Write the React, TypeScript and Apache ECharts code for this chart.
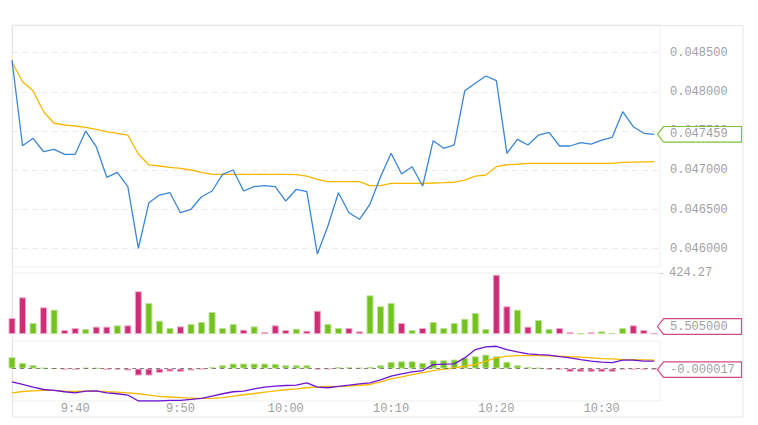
import React, { useEffect, useRef } from "react";
import * as echarts from "echarts";

// minute of day of the first bar (9:34)
const START_MINUTE = 9 * 60 + 34;

const PRICE = [
  0.048407, 0.047314, 0.047408, 0.047237, 0.047268, 0.047204, 0.047204, 0.047501, 0.047301, 0.046911,
  0.046974, 0.046791, 0.046005, 0.046587, 0.046685, 0.046714, 0.046459, 0.046503, 0.046663, 0.046736,
  0.046949, 0.047004, 0.046736, 0.046791, 0.046804, 0.046791, 0.046608, 0.046758, 0.046727, 0.045932,
  0.046289, 0.046714, 0.046459, 0.046375, 0.04657, 0.046918, 0.047217, 0.046953, 0.047046, 0.0468,
  0.047378, 0.047281, 0.047323, 0.048015, 0.04811, 0.048203, 0.048143, 0.047217, 0.047395, 0.047323,
  0.04745, 0.047485, 0.04731, 0.04731, 0.047352, 0.047335, 0.047386, 0.047421, 0.047747, 0.047556,
  0.047472, 0.047459,
];

const PRICE_MA = [
  0.048385, 0.04813, 0.048015, 0.047747, 0.0476, 0.047578, 0.047565, 0.047548, 0.047523, 0.047492,
  0.04747, 0.04745, 0.047208, 0.047068, 0.047055, 0.047038, 0.047025, 0.047004, 0.046974, 0.046949,
  0.046949, 0.046949, 0.046949, 0.046949, 0.046949, 0.046949, 0.046949, 0.046945, 0.046927, 0.046883,
  0.046855, 0.046855, 0.046855, 0.046855, 0.046804, 0.046804, 0.046834, 0.046834, 0.046834, 0.046834,
  0.046838, 0.046842, 0.046848, 0.046876, 0.046927, 0.04694, 0.047046, 0.047071, 0.047077, 0.047089,
  0.047089, 0.047089, 0.047089, 0.047089, 0.047089, 0.047089, 0.047089, 0.047089, 0.047102, 0.047105,
  0.047108, 0.04711,
];

const VOLUME = [
  111, 255, 76.5, 185.7, 169, 27.8, 41.7, 34.8, 51, 51,
  60.3, 60.3, 297, 215.6, 92.7, 41.7, 53, 69.5, 83.5, 153,
  41.7, 69.5, 30, 53, 14, 60.3, 27.8, 37, 23, 162,
  69.5, 41.7, 41.7, 18.5, 269, 192.6, 215.6, 76.5, 27.8, 41.7,
  83.5, 41.7, 76.5, 106, 146, 34.8, 412, 192.6, 169, 51,
  97, 34.8, 41.7, 14, 5, 12, 18.5, 7, 41.7, 60.3,
  27.8, 5.505,
];

// 1 = up bar, -1 = down bar
const VOLUME_DIR = [
  -1, -1, 1, -1, 1, -1, -1, 1, -1, -1,
  1, -1, -1, 1, 1, 1, -1, 1, 1, 1,
  1, 1, -1, 1, -1, -1, -1, 1, -1, -1,
  1, 1, -1, -1, 1, 1, 1, -1, 1, -1,
  1, 1, 1, 1, 1, 1, -1, -1, 1, -1,
  1, 1, -1, -1, 1, -1, 1, 1, 1, -1,
  -1, -1,
];

const DIF = [
  -0.000206, -0.000248, -0.000288, -0.000326, -0.000341, -0.000361, -0.000377, -0.00035, -0.000346, -0.000377,
  -0.000392, -0.000412, -0.000505, -0.000505, -0.000505, -0.000496, -0.000496, -0.000481, -0.000465, -0.000428,
  -0.000392, -0.000361, -0.00035, -0.000315, -0.000288, -0.000273, -0.000264, -0.000257, -0.000222, -0.000288,
  -0.000299, -0.000276, -0.000257, -0.000237, -0.000222, -0.000175, -0.000118, -0.000082, -0.000051, -0.000031,
  0.000062, 0.000068, 0.000073, 0.000166, 0.000295, 0.000336, 0.000347, 0.000295, 0.000259, 0.000228,
  0.000217, 0.000208, 0.000186, 0.000166, 0.00014, 0.000115, 0.000099, 0.000093, 0.00013, 0.00013,
  0.000115, 0.000115,
];

const DEA = [
  -0.000377, -0.000357, -0.000346, -0.000341, -0.000341, -0.00035, -0.000357, -0.00035, -0.00035, -0.000361,
  -0.000366, -0.000377, -0.000392, -0.000412, -0.000434, -0.000443, -0.000454, -0.000459, -0.000465, -0.000465,
  -0.000454, -0.000428, -0.000408, -0.000388, -0.000366, -0.000346, -0.00033, -0.000315, -0.000299, -0.000284,
  -0.000279, -0.000281, -0.000273, -0.00026, -0.000248, -0.000206, -0.00016, -0.000129, -0.000093, -0.000062,
  -0.000031, -0.000009, 0.000011, 0.000037, 0.000062, 0.000115, 0.000166, 0.000192, 0.000202, 0.000202,
  0.000202, 0.000197, 0.000192, 0.000184, 0.000177, 0.000166, 0.000155, 0.00015, 0.00014, 0.000138,
  0.000135, 0.000132,
];

const MACD = [
  0.000177, 0.000088, 0.000053, 0.000011, 0.000002, -0.000016, -0.00002, 0.000011, 0.000008, -0.00002,
  -0.000016, -0.000031, -0.000109, -0.000109, -0.000067, -0.000047, -0.000051, -0.000031, -0.000011, 0.00002,
  0.000051, 0.000078, 0.000078, 0.000078, 0.000078, 0.000073, 0.000051, 0.000051, 0.000051, -0.000011,
  -0.000005, 0.00002, 0.00002, 0.000011, 0.000026, 0.000051, 0.000104, 0.000113, 0.000113, 0.000088,
  0.000129, 0.000129, 0.00014, 0.000166, 0.000191, 0.000217, 0.000191, 0.000104, 0.000051, 0.000026,
  0.000011, -0.000011, -0.000016, -0.000051, -0.000051, -0.000051, -0.000051, -0.000051, -0.000016, -0.000016,
  -0.000016, -0.000017,
];

const PRICE_TICKS = [0.046, 0.0465, 0.047, 0.0475, 0.048, 0.0485];
const TIME_TICKS = [580, 590, 600, 610, 620, 630];
const VOLUME_MAX = 424.27;

const UP_COLOR = "#74c21f";
const UP_BORDER = "#b9e28f";
const DOWN_COLOR = "#cd2d75";
const DOWN_BORDER = "#efa8c8";
const MONO = '"Liberation Mono", "DejaVu Sans Mono", monospace';
const LABEL_GRAY = "#a0a0a0";

const GRID_LEFT = 12;
const GRID_RIGHT_X = 660;
const GRID_W = GRID_RIGHT_X - GRID_LEFT;
const GRIDS = [
  { top: 25, height: 242 },
  { top: 273, height: 61 },
  { top: 341, height: 60 },
];

function fmtTime(v: number): string {
  const h = Math.floor(v / 60);
  const m = Math.round(v - h * 60);
  return `${h}:${m < 10 ? "0" + m : m}`;
}

export default function App() {
  const ref = useRef<HTMLDivElement>(null);

  useEffect(() => {
    document.body.style.margin = "0";
    if (!ref.current) return;
    const chart = echarts.init(ref.current, null, { renderer: "svg" });

    const xs = PRICE.map((_, i) => START_MINUTE + i);
    const xMin = xs[0];
    const xMax = xs[xs.length - 1] + 0.54;

    const pair = (arr: number[]) => arr.map((v, i) => [xs[i], v]);

    const volumeData = VOLUME.map((v, i) => ({
      value: [xs[i], v],
      itemStyle: {
        color: VOLUME_DIR[i] > 0 ? UP_COLOR : DOWN_COLOR,
        borderColor: VOLUME_DIR[i] > 0 ? UP_BORDER : DOWN_BORDER,
        borderWidth: 1,
      },
    }));
    const macdData = MACD.map((v, i) => ({
      value: [xs[i], v],
      itemStyle: {
        color: v >= 0 ? UP_COLOR : DOWN_COLOR,
        borderColor: v >= 0 ? UP_BORDER : DOWN_BORDER,
        borderWidth: 1,
      },
    }));

    const grid = GRIDS.map((g) => ({
      left: GRID_LEFT,
      width: GRID_W,
      top: g.top,
      height: g.height,
      show: true,
      borderColor: "#efefef",
      borderWidth: 1,
    }));

    const xAxisBase = (gi: number, showLabels: boolean) => ({
      type: "value",
      gridIndex: gi,
      min: xMin,
      max: xMax,
      axisLine: { show: false },
      axisTick: { show: false },
      splitLine: { show: false },
      axisLabel: showLabels
        ? {
            show: true,
            customValues: TIME_TICKS,
            formatter: (v: number) => fmtTime(v),
            color: LABEL_GRAY,
            fontFamily: MONO,
            fontSize: 12,
            margin: 2,
          }
        : { show: false },
    });

    const option: any = {
      animation: false,
      backgroundColor: "#fff",
      grid,
      xAxis: [xAxisBase(0, false), xAxisBase(1, false), xAxisBase(2, true)],
      yAxis: [
        {
          type: "value",
          gridIndex: 0,
          position: "right",
          min: 0.045767,
          max: 0.048853,
          axisLine: { show: false },
          axisTick: { show: false, customValues: PRICE_TICKS },
          axisLabel: {
            customValues: PRICE_TICKS,
            formatter: (v: number) => v.toFixed(6),
            color: LABEL_GRAY,
            fontFamily: MONO,
            fontSize: 12,
            margin: 10,
          },
          splitLine: { show: true, lineStyle: { color: "#ececec", type: [6, 4] } },
        },
        {
          type: "value",
          gridIndex: 1,
          position: "right",
          min: 0,
          max: VOLUME_MAX,
          axisLine: { show: false },
          axisTick: { show: true, length: 3, customValues: [VOLUME_MAX], lineStyle: { color: "#ccc" } },
          axisLabel: {
            customValues: [VOLUME_MAX],
            formatter: (v: number) => v.toFixed(2),
            color: LABEL_GRAY,
            fontFamily: MONO,
            fontSize: 12,
            margin: 9,
          },
          splitLine: { show: false },
        },
        {
          type: "value",
          gridIndex: 2,
          position: "right",
          min: -0.000505,
          max: 0.000429,
          axisLine: { show: false },
          axisTick: { show: false },
          axisLabel: { show: false },
          splitLine: { show: false },
        },
      ],
      series: [
        {
          type: "line",
          name: "price",
          xAxisIndex: 0,
          yAxisIndex: 0,
          data: pair(PRICE),
          showSymbol: false,
          lineStyle: { color: "#3b86d6", width: 1.3 },
          z: 3,
        },
        {
          type: "line",
          name: "avg",
          xAxisIndex: 0,
          yAxisIndex: 0,
          data: pair(PRICE_MA),
          showSymbol: false,
          lineStyle: { color: "#f8b800", width: 1.3 },
          z: 2,
        },
        {
          type: "bar",
          name: "volume",
          xAxisIndex: 1,
          yAxisIndex: 1,
          data: volumeData,
          barWidth: 7,
          clip: true,
        },
        {
          type: "bar",
          name: "macd",
          xAxisIndex: 2,
          yAxisIndex: 2,
          data: macdData,
          barWidth: 7,
          clip: true,
          markLine: {
            silent: true,
            symbol: "none",
            label: { show: false },
            lineStyle: { color: "#666", type: [4, 4], width: 1, opacity: 0.8 },
            data: [{ yAxis: 0 }],
          },
          z: 1,
        },
        {
          type: "line",
          name: "DIF",
          xAxisIndex: 2,
          yAxisIndex: 2,
          data: pair(DIF),
          showSymbol: false,
          lineStyle: { color: "#6d14d6", width: 1.3 },
          z: 3,
        },
        {
          type: "line",
          name: "DEA",
          xAxisIndex: 2,
          yAxisIndex: 2,
          data: pair(DEA),
          showSymbol: false,
          lineStyle: { color: "#f8b800", width: 1.3 },
          z: 2,
        },
      ],
    };

    chart.setOption(option);

    const tag = (cy: number, color: string, text: string) => ({
      type: "group",
      z: 100,
      zlevel: 0,
      children: [
        {
          type: "polygon",
          z: 100,
          shape: {
            points: [
              [GRID_RIGHT_X - 2.5, cy],
              [GRID_RIGHT_X + 3.5, cy - 7.8],
              [741.5, cy - 7.8],
              [741.5, cy + 7.8],
              [GRID_RIGHT_X + 3.5, cy + 7.8],
            ],
          },
          style: { fill: "#ffffff", stroke: color, lineWidth: 1.2 },
        },
        {
          type: "text",
          z: 101,
          x: GRID_RIGHT_X + 10,
          y: cy,
          style: {
            text,
            fill: LABEL_GRAY,
            fontFamily: MONO,
            fontSize: 12,
            verticalAlign: "middle",
            align: "left",
          },
        },
      ],
    });

    const lastPrice = PRICE[PRICE.length - 1];
    const lastVol = VOLUME[VOLUME.length - 1];
    const lastMacd = MACD[MACD.length - 1];
    const py = chart.convertToPixel({ yAxisIndex: 0 }, lastPrice) as number;
    let vy = chart.convertToPixel({ yAxisIndex: 1 }, lastVol) as number;
    const volBottom = GRIDS[1].top + GRIDS[1].height;
    vy = Math.min(vy, volBottom - 7.5);
    const my = chart.convertToPixel({ yAxisIndex: 2 }, lastMacd) as number;

    chart.setOption({
      graphic: [
        {
          type: "rect",
          z: 0,
          silent: true,
          shape: { x: 12.5, y: 25.5, width: 730.5, height: 391.5 },
          style: { fill: "none", stroke: "#e6e6e6", lineWidth: 1 },
        },
        tag(py, "#7cc13a", lastPrice.toFixed(6)),
        tag(vy, "#d14a86", lastVol.toFixed(6)),
        tag(my, "#d14a86", lastMacd.toFixed(6)),
      ],
    });

    return () => {
      chart.dispose();
    };
  }, []);

  return <div ref={ref} style={{ width: 758, height: 425 }} />;
}
